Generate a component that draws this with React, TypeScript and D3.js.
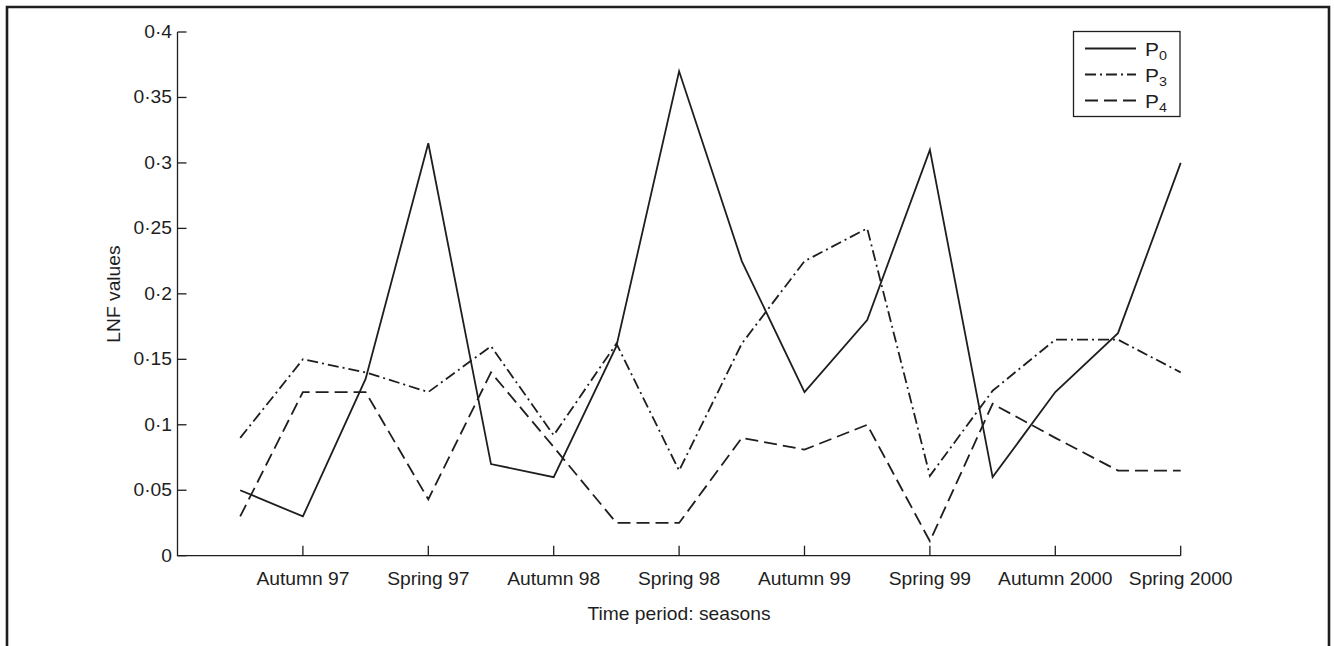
import React from 'react';
import * as d3 from 'd3';

// seasons as half-step positions; labelled ticks sit on every second step
const tickLabels = ['Autumn 97', 'Spring 97', 'Autumn 98', 'Spring 98', 'Autumn 99', 'Spring 99', 'Autumn 2000', 'Spring 2000'];
const tickPos = [2, 4, 6, 8, 10, 12, 14, 16];
const steps = [1, 2, 3, 4, 5, 6, 7, 8, 9, 10, 11, 12, 13, 14, 15, 16];

const p0 = [0.05, 0.03, 0.135, 0.315, 0.07, 0.06, 0.16, 0.37, 0.225, 0.125, 0.18, 0.31, 0.06, 0.125, 0.17, 0.30];
const p3 = [0.09, 0.15, 0.14, 0.125, 0.16, 0.092, 0.162, 0.065, 0.162, 0.225, 0.25, 0.061, 0.126, 0.165, 0.165, 0.14];
const p4 = [0.03, 0.125, 0.125, 0.043, 0.14, 0.083, 0.025, 0.025, 0.09, 0.081, 0.1, 0.011, 0.116, 0.09, 0.065, 0.065];

const yTicks = [0, 0.05, 0.1, 0.15, 0.2, 0.25, 0.3, 0.35, 0.4];
const yTickText = ['0', '0·05', '0·1', '0·15', '0·2', '0·25', '0·3', '0·35', '0·4'];

const series = [
  { name: '0', values: p0, dash: 'none' },
  { name: '3', values: p3, dash: '11,4,2,4' },
  { name: '4', values: p4, dash: '13,6' },
];

const font = '"Liberation Sans", Arial, Helvetica, sans-serif';
const ink = '#1e1e1e';
const sx = 1.1; // glyphs in the figure are a bit wide

export default function App() {
  const x = d3.scaleLinear().domain([0, 16]).range([177.5, 1180.7]);
  const y = d3.scaleLinear().domain([0, 0.4]).range([555.7, 32]);

  const line = d3.line<number>()
    .x((d, i) => x(steps[i]))
    .y(d => y(d));

  const label = (tx: number, ty: number, text: string, anchor: string, size = 17.5) => (
    <text
      transform={`translate(${tx},${ty}) scale(${sx},1)`}
      textAnchor={anchor}
      fontFamily={font}
      fontSize={size}
      fill={ink}
    >
      {text}
    </text>
  );

  return (
    <svg width={1334} height={646} style={{ position: 'absolute', left: 0, top: 0, background: '#fff' }}>

      {/* outer frame, open at the bottom */}
      <path d='M7,646 V7 H1329 V646' fill='none' stroke={ink} strokeWidth={2.6} />

      {/* axes */}
      <path d={`M${x(0)},${y(0.4)} V${y(0)} H${x(16)}`} fill='none' stroke={ink} strokeWidth={1.3} />
      {yTicks.map((t, i) => (
        <g key={'y' + i}>
          <line x1={x(0)} x2={x(0) + 9} y1={y(t)} y2={y(t)} stroke={ink} strokeWidth={1.3} />
          {label(172, y(t) + 6, yTickText[i], 'end')}
        </g>
      ))}
      {tickPos.map((p, i) => (
        <g key={'x' + i}>
          <line x1={x(p)} x2={x(p)} y1={y(0)} y2={y(0) - 10} stroke={ink} strokeWidth={1.3} />
          {label(x(p), 585, tickLabels[i], 'middle')}
        </g>
      ))}

      {label(679, 620, 'Time period: seasons', 'middle')}
      <text
        transform={`translate(120,294) rotate(-90) scale(${sx},1)`}
        textAnchor='middle'
        fontFamily={font}
        fontSize={17.5}
        fill={ink}
      >
        LNF values
      </text>

      {/* series */}
      {series.map(s => (
        <path
          key={s.name}
          d={line(s.values) || ''}
          fill='none'
          stroke={ink}
          strokeWidth={1.8}
          strokeDasharray={s.dash}
        />
      ))}

      {/* legend */}
      <rect x={1073.5} y={31.5} width={106.5} height={85} fill='#fff' stroke={ink} strokeWidth={1.3} />
      {series.map((s, i) => {
        const ly = 48.5 + i * 26;
        return (
          <g key={'lg' + s.name}>
            <line x1={1085} x2={1136} y1={ly} y2={ly} stroke={ink} strokeWidth={1.8} strokeDasharray={s.dash} />
            <text
              transform={`translate(1145,${ly + 7}) scale(${sx},1)`}
              fontFamily={font}
              fontSize={19}
              fill={ink}
            >
              P<tspan fontSize={13} dy={4}>{s.name}</tspan>
            </text>
          </g>
        );
      })}
    </svg>
  );
}
